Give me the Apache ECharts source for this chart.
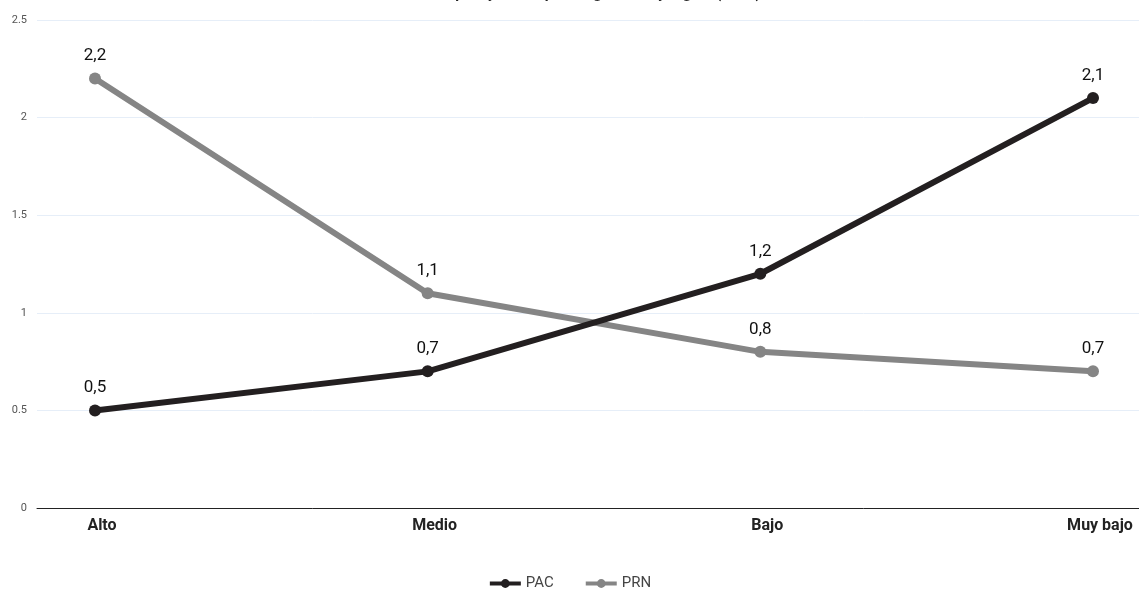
<!DOCTYPE html>
<html><head><meta charset="utf-8">
<script src="https://cdn.jsdelivr.net/npm/echarts@6/dist/echarts.min.js"></script>
<style>html,body{margin:0;padding:0;background:#fff}#c{width:1139px;height:593px}</style>
</head><body><div id="c"></div>
<script>
const categories = ['Alto', 'Medio', 'Bajo', 'Muy bajo'];
const pacValues = [0.5, 0.7, 1.2, 2.1];
const prnValues = [2.2, 1.1, 0.8, 0.7];
const yTicks = [0, 0.5, 1, 1.5, 2, 2.5];
const titleText = 'Tasa de empleo y subempleo según nivel y región (2022)';

const chart = echarts.init(document.getElementById('c'));
const fmt = p => String(p.value).replace('.', ',');
const lbl = {show: true, position: 'top', distance: 8, formatter: fmt, fontFamily: 'Roboto', fontSize: 17, color: '#111'};
chart.setOption({
  animation: false,
  title: {text: titleText, left: 'center', top: -18, textStyle: {fontFamily: 'Roboto', fontWeight: 'bold', fontSize: 15, color: '#222'}},
  legend: {bottom: -3, left: 'center', itemWidth: 31, itemHeight: 11, itemGap: 30,
    lineStyle: {width: 4},
    textStyle: {fontFamily: 'Roboto', fontSize: 15, color: '#444'}, data: ['PAC', 'PRN']},
  grid: [
    {left: 95, right: 46, top: 20, bottom: 85},
    {left: 37, right: 0, top: 20, bottom: 85}
  ],
  xAxis: [
    {type: 'category', gridIndex: 0, data: categories, boundaryGap: false,
     axisLine: {show: false}, axisTick: {show: false},
     axisLabel: {margin: 10, fontFamily: 'Roboto', fontWeight: 'bold', fontSize: 16, color: '#222',
       padding: [0, 0, 0, 14]}},
    {type: 'value', gridIndex: 1, min: 0, max: 1, show: true,
     axisLine: {show: true, lineStyle: {color: '#222', width: 1}}, axisTick: {show: false},
     axisLabel: {show: false}, splitLine: {show: false}}
  ],
  yAxis: [
    {type: 'value', gridIndex: 0, min: yTicks[0], max: yTicks[yTicks.length - 1], interval: 0.5, show: false},
    {type: 'value', gridIndex: 1, min: yTicks[0], max: yTicks[yTicks.length - 1], interval: 0.5,
     axisLine: {show: false}, axisTick: {show: false},
     axisLabel: {margin: 10, fontFamily: 'Roboto', fontSize: 11, color: '#555'},
     splitLine: {lineStyle: {color: '#e6eef8', width: 1}}}
  ],
  series: [
    {name: 'PAC', type: 'line', xAxisIndex: 0, yAxisIndex: 0, data: pacValues, symbol: 'circle', symbolSize: 12,
     lineStyle: {width: 6, color: '#231f20'}, itemStyle: {color: '#231f20'}, label: lbl, z: 3},
    {name: 'PRN', type: 'line', xAxisIndex: 0, yAxisIndex: 0, data: prnValues, symbol: 'circle', symbolSize: 12,
     lineStyle: {width: 6, color: '#858585'}, itemStyle: {color: '#858585'}, label: lbl, z: 2}
  ]
});
</script></body></html>
